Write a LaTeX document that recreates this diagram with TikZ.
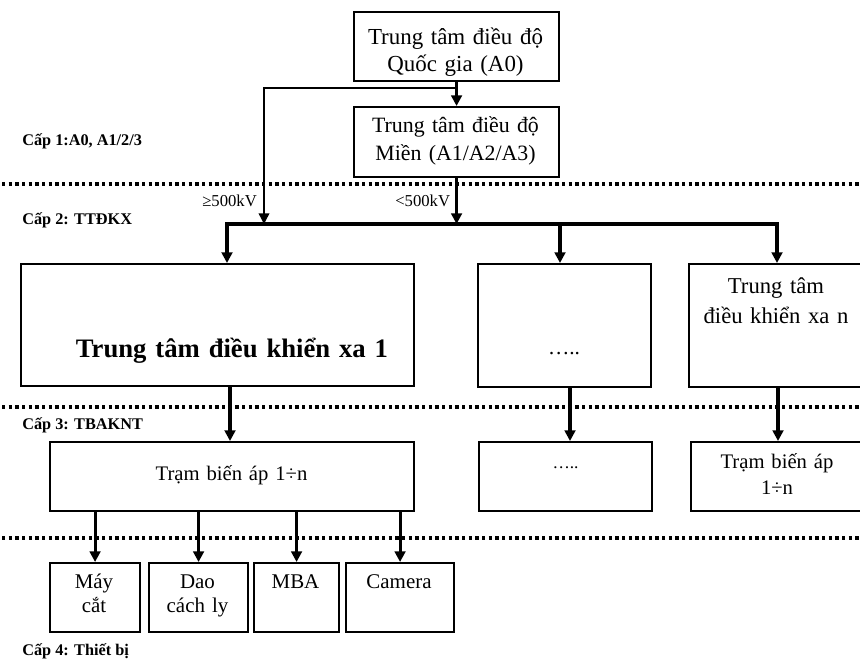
\documentclass[tikz,border=0pt]{standalone}
\usepackage{fontspec}
\setmainfont{Liberation Serif}
\usetikzlibrary{arrows.meta}
\newcommand\bx[5]{\node[box,minimum width={#4*0.75pt},minimum height={#5*0.75pt}] (#1) at (#2,#3) {};}
\begin{document}
\begin{tikzpicture}[x=0.75pt,y=-0.75pt,
  box/.style={draw, line width=1.6pt, anchor=north west, inner sep=0pt},
  txt/.style={inner sep=0pt, text width=170pt, align=center, anchor=base},
  lvl/.style={inner sep=0pt, anchor=base west, font=\bfseries\fontsize{12.2}{14}\selectfont},
  kv/.style={inner sep=0pt, anchor=base west, font=\fontsize{12.5}{14}\selectfont},
  dotline/.style={line width=2.7pt, dash pattern=on 2.5pt off 2.5pt},
  arr/.style={line width=2.3pt, -{Triangle[length=8pt,width=8pt]}},
  thinarr/.style={line width=1.1pt, -{Triangle[length=8pt,width=8pt]}},
  busline/.style={line width=2.3pt, line cap=rect},
]
\useasboundingbox (0,0) rectangle (860,659);
\clip (0,0) rectangle (860,659);

% separators
\draw[dotline] (2,184) -- (860,184);
\draw[dotline] (2,407) -- (860,407);
\draw[dotline] (2,538) -- (860,538);

% boxes
\bx{a0}{353}{11}{205}{69}
\bx{mien}{353}{106}{205}{70}
\bx{c1}{20}{263}{393}{122}
\bx{c2}{477}{263}{173}{123}
\bx{c3}{688}{263}{190}{123}
\bx{r1}{49}{441}{364}{69}
\bx{r2}{478}{441}{173}{69}
\bx{r3}{690}{441}{190}{69}
\bx{d1}{49}{562}{90}{69}
\bx{d2}{148}{562}{99}{69}
\bx{d3}{253}{562}{85}{69}
\bx{d4}{345}{562}{108}{69}

% texts in boxes
\node[txt, font=\fontsize{17.2}{20}\selectfont] (ta0) at (455.5,45) {Trung tâm điều độ\\Quốc gia (A0)};
\node[txt, font=\fontsize{16.4}{21}\selectfont] (tmien) at (455.5,133) {Trung tâm điều độ\\Miền (A1/A2/A3)};
\node[txt, text width=300pt, font=\bfseries\fontsize{20}{24}\selectfont] (tc1) at (232,357) {Trung tâm điều khiển xa 1};
\node[txt, font=\fontsize{16}{20}\selectfont] (tc2) at (564,354) {…..};
\node[txt, font=\fontsize{17}{23}\selectfont] (tc3) at (776,293) {Trung tâm\\điều khiển xa n};
\node[txt, font=\fontsize{15.5}{20}\selectfont] (tr1) at (231.5,480) {Trạm biến áp 1÷n};
\node[txt, font=\fontsize{13}{20}\selectfont] (tr2) at (565.5,468) {…..};
\node[txt, font=\fontsize{15.5}{20}\selectfont] (tr3) at (777,468) {Trạm biến áp\\1÷n};
\node[txt, font=\fontsize{15.7}{18}\selectfont] (td1) at (94,588) {Máy\\cắt};
\node[txt, font=\fontsize{15.7}{18}\selectfont] (td2) at (197.5,588) {Dao\\cách ly};
\node[txt, font=\fontsize{15.7}{18}\selectfont] (td3) at (295.5,588) {MBA};
\node[txt, font=\fontsize{15.7}{18}\selectfont] (td4) at (399,588) {Camera};

% level labels
\node[lvl] (l1) at (22,146) {Cấp 1:A0, A1/2/3};
\node[lvl] (l2) at (22,225) {Cấp 2: TTĐKX};
\node[lvl] (l3) at (22,429) {Cấp 3: TBAKNT};
\node[lvl] (l4) at (22,655) {Cấp 4: Thiết bị};

\node[kv] (k1) at (202,207) {≥500kV};
\node[kv] (k2) at (395,207) {<500kV};

% connectors
\coordinate (j) at (455.5,88);
\coordinate (hv) at (264,224);
\coordinate (bl) at (227,224);
\coordinate (bc) at (560,224);
\coordinate (br) at (777,224);
\draw[arr] (a0.south) -- (mien.north);
\draw[thinarr] (j) -| (hv);
\draw[busline] (bl) -- (br);
\draw[arr] (mien.south) -- (mien.south |- bl);
\draw[arr] (bl) -- (bl |- c1.north);
\draw[arr] (bc) -- (bc |- c2.north);
\draw[arr] (br) -- (br |- c3.north);

\coordinate (x1) at (230,0);
\coordinate (x2) at (570,0);
\coordinate (x3) at (778,0);
\draw[arr] (c1.south -| x1) -- (r1.north -| x1);
\draw[arr] (c2.south -| x2) -- (r2.north -| x2);
\draw[arr] (c3.south -| x3) -- (r3.north -| x3);

\draw[arr] (r1.south -| d1.north) -- (d1.north);
\draw[arr] (r1.south -| d2.north) -- (d2.north);
\draw[arr] (r1.south -| d3.north) -- (d3.north);
\draw[arr] (r1.south -| d4.north) -- (d4.north);
\end{tikzpicture}
\end{document}
